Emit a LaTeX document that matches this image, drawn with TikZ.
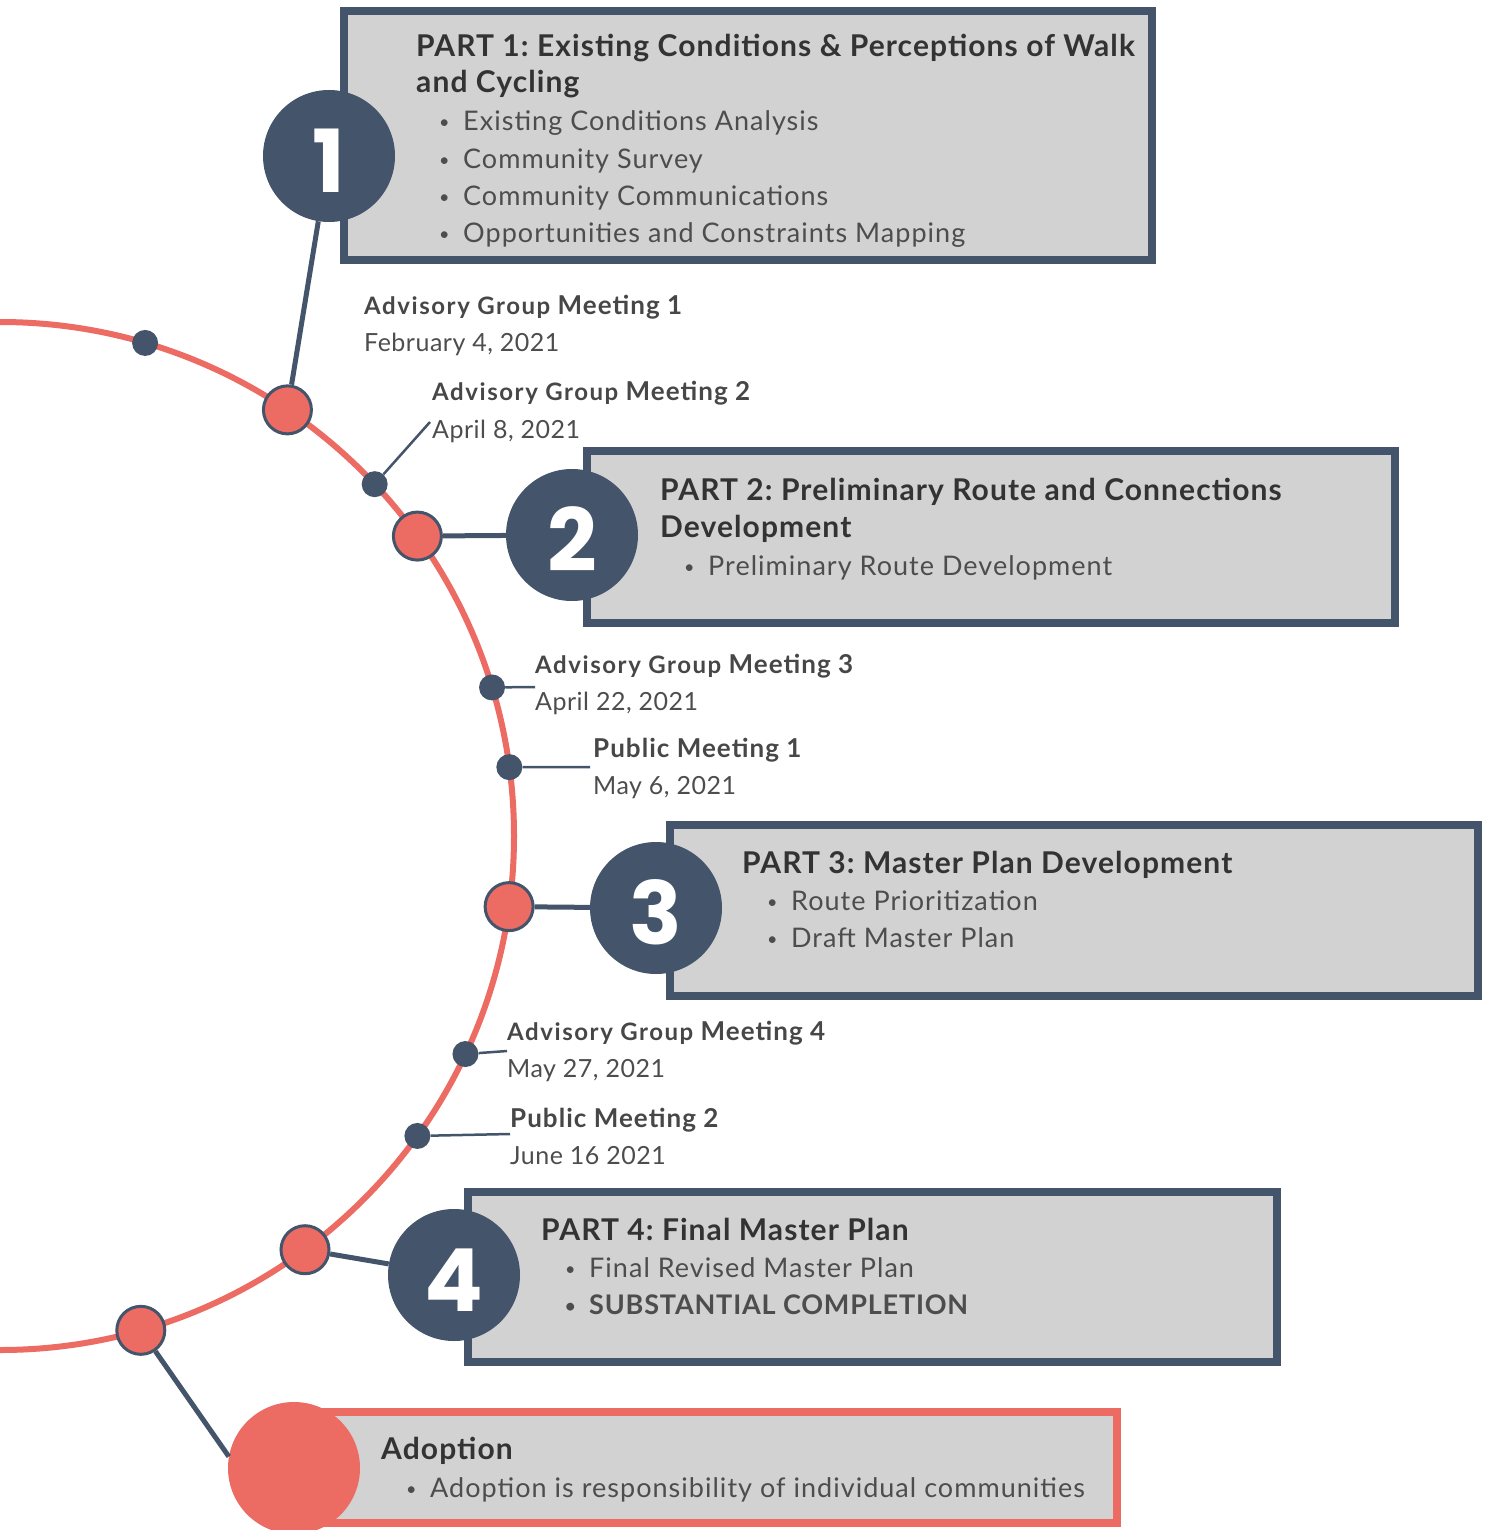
\documentclass[tikz,border=0pt]{standalone}
\usepackage{fontspec}
\setmainfont{Lato}
\newfontfamily\numfont{Poppins}
\usetikzlibrary{positioning, calc}
\frenchspacing

\definecolor{navy}{HTML}{44546A}
\definecolor{coral}{HTML}{EC6B63}
\definecolor{boxgrey}{HTML}{D2D2D2}
\definecolor{inkdark}{HTML}{333333}
\definecolor{inkmid}{HTML}{4D4D4D}

\newcommand\bul[1]{\makebox[24pt][l]{\raisebox{2pt}{\fontsize{18}{18}\selectfont •}}#1}
\newcommand\grp{{\fontsize{24}{28}\selectfont\addfontfeature{LetterSpace=6.5}Advisory Group} }

\tikzset{
  partbox/.style={draw=navy, line width=8pt, fill=boxgrey, inner sep=0pt},
  adoptbox/.style={draw=coral, line width=8pt, fill=boxgrey, inner sep=0pt},
  arcline/.style={draw=coral, line width=6pt},
  stem/.style={draw=navy, line width=5pt},
  tick/.style={draw=navy, line width=2.5pt},
  milestone/.style={circle, fill=coral, draw=navy, line width=3pt, minimum size=48pt, inner sep=0pt},
  meetdot/.style={circle, fill=navy, minimum size=26pt, inner sep=0pt},
  partnum/.style={circle, fill=navy, minimum size=132pt, inner sep=0pt, text=white,
    text height=73pt, text depth=0pt, font=\numfont\bfseries\fontsize{87}{87}\selectfont},
  title/.style={anchor=base west, inner sep=0pt, text=inkdark,
    font=\bfseries\fontsize{30}{35}\selectfont\addfontfeature{LetterSpace=3.6}},
  item/.style={anchor=base west, inner sep=0pt, text=inkmid,
    font=\fontsize{27}{32}\selectfont\addfontfeature{LetterSpace=3.8}},
  meet/.style={anchor=base west, inner sep=0pt, text=inkdark!90,
    font=\bfseries\fontsize{26}{30}\selectfont\addfontfeature{LetterSpace=4}},
  when/.style={anchor=base west, inner sep=0pt, text=inkmid,
    font=\fontsize{25}{30}\selectfont\addfontfeature{LetterSpace=2}}
}

\begin{document}
\begin{tikzpicture}[x=1pt, y=-1pt]
  \useasboundingbox (0,0) rectangle (1485,1530);

  % boxes
  \node[partbox, minimum width=808pt, minimum height=249pt] (box1) at (748,135.5) {};
  \node[partbox, minimum width=808pt, minimum height=172pt] (box2) at (991,537) {};
  \node[partbox, minimum width=808pt, minimum height=171pt] (box3) at (1074,910.5) {};
  \node[partbox, minimum width=809pt, minimum height=170pt] (box4) at (872.5,1277) {};
  \node[adoptbox, minimum width=817pt, minimum height=111pt] (box5) at (708.5,1467.5) {};

  % timeline
  \coordinate (hub) at (0,836);
  \draw[arcline] (0,322) arc[start angle=-90, end angle=90, radius=514];

  \node[meetdot] (m1) at ($(hub)+(-73.6:514)$) {};
  \node[milestone] (r1) at ($(hub)+(-56.0:514)$) {};
  \node[meetdot] (m2) at ($(hub)+(-43.2:514)$) {};
  \node[milestone] (r2) at ($(hub)+(-35.7:514)$) {};
  \node[meetdot] (m3) at ($(hub)+(-16.8:514)$) {};
  \node[meetdot] (m4) at ($(hub)+(-7.7:514)$) {};
  \node[milestone] (r3) at ($(hub)+(7.9:514)$) {};
  \node[meetdot] (m5) at ($(hub)+(25.1:514)$) {};
  \node[meetdot] (m6) at ($(hub)+(35.7:514)$) {};
  \node[milestone] (r4) at ($(hub)+(53.6:514)$) {};
  \node[milestone] (r5) at ($(hub)+(74.1:514)$) {};

  \node[partnum] (n1) at (329,156) {1};
  \node[partnum] (n2) at (572,535) {2};
  \node[partnum] (n3) at (656,908) {3};
  \node[partnum] (n4) at (454,1275) {4};
  \node[circle, fill=coral, minimum size=132pt] (adopt) at (294,1468) {};

  \draw[stem] (n1) -- (r1);
  \draw[stem] (r2) -- (n2);
  \draw[stem] (r3) -- (n3);
  \draw[stem] (r4) -- (n4);
  \draw[stem] (r5) -- (adopt.170);

  % meeting labels
  \coordinate (e2) at (430,422);
  \coordinate (e3) at (535,687);
  \coordinate (e4) at (590,767);
  \coordinate (e5) at (507,1051);
  \coordinate (e6) at (510,1134);
  \draw[tick] (m2) -- (e2);
  \draw[tick] (m3) -- (e3);
  \draw[tick] (m4) -- (e4);
  \draw[tick] (m5) -- (e5);
  \draw[tick] (m6) -- (e6);

  \node[meet] (g1) at (364,314) {\grp Meeting 1};
  \node[when] (d1) at (364,351) {February 4, 2021};
  \node[meet] (g2) at (432,400) {\grp Meeting 2};
  \node[when] (d2) at (432,438) {April 8, 2021};
  \node[meet] (g3) at (535,673) {\grp Meeting 3};
  \node[when] (d3) at (535,710) {April 22, 2021};
  \node[meet] (g4) at (593,757) {Public Meeting 1};
  \node[when] (d4) at (593,794) {May 6, 2021};
  \node[meet] (g5) at (507,1040) {\grp Meeting 4};
  \node[when] (d5) at (507,1077) {May 27, 2021};
  \node[meet] (g6) at (510,1127) {Public Meeting 2};
  \node[when] (d6) at (510,1164) {June 16 2021};

  % part texts
  \node[title] (t1) at (416,57) {PART 1: Existing Conditions \& Perceptions of Walk};
  \node[title] (t1b) at (416,93) {and Cycling};
  \foreach \txt [count=\i from 0] in {Existing Conditions Analysis, Community Survey,
      Community Communications, Opportunities and Constraints Mapping}
    \node[item] (p1i\i) at (439,{131+37.3*\i}) {\bul{\txt}};

  \node[title] (t2) at (660,500) {PART 2: Preliminary Route and Connections};
  \node[title] (t2b) at (660,537) {Development};
  \node[item] (p2i0) at (684,575) {\bul{Preliminary Route Development}};

  \node[title] (t3) at (742,873) {PART 3: Master Plan Development};
  \node[item] (p3i0) at (767,910) {\bul{Route Prioritization}};
  \node[item] (p3i1) at (767,947) {\bul{Draft Master Plan}};

  \node[title] (t4) at (541,1240) {PART 4: Final Master Plan};
  \node[item] (p4i0) at (565,1277) {\bul{Final Revised Master Plan}};
  \node[item, font=\bfseries\fontsize{27}{32}\selectfont\addfontfeature{LetterSpace=3}] (p4i1) at (565,1314) {\bul{SUBSTANTIAL COMPLETION}};

  \node[title] (t5) at (381,1459) {Adoption};
  \node[item] (p5i0) at (406,1497) {\bul{Adoption is responsibility of individual communities}};
\end{tikzpicture}
\end{document}
